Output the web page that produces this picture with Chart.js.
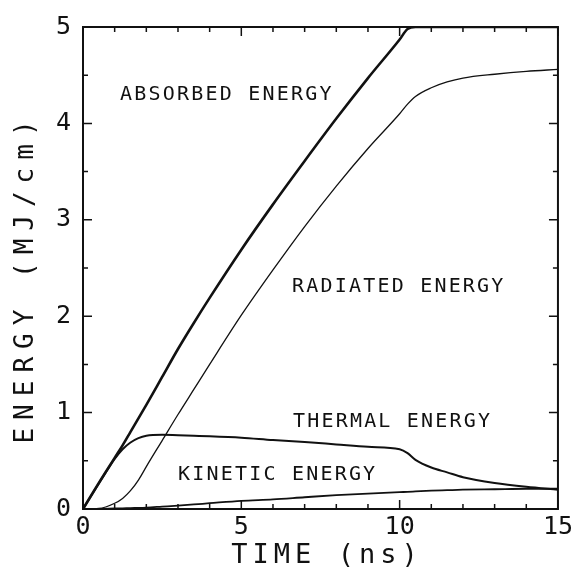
<!DOCTYPE html>
<html>
<head>
<meta charset="utf-8">
<script src="https://cdn.jsdelivr.net/npm/chart.js@4.4.1/dist/chart.umd.min.js"></script>
<style>
  body { margin: 0; background: #fff; }
  #wrap { width: 576px; height: 580px; }
</style>
</head>
<body>
<div id="wrap"><canvas id="energyChart" width="576" height="580"></canvas></div>
<script>
// values (time in ns, energy in MJ/cm)
const timeNs   = [0, 0.5, 1, 1.25, 1.5, 1.75, 2, 2.5, 3, 3.5, 4, 5, 6, 7, 8, 9, 10, 10.25, 10.5, 11, 11.5, 12, 13, 14, 15];
const absorbed = [0, 0.27, 0.53, 0.66, 0.8, 0.94, 1.08, 1.37, 1.66, 1.93, 2.19, 2.69, 3.16, 3.61, 4.05, 4.47, 4.87, 4.98, 5, 5, 5, 5, 5, 5, 5];
const radiated = [0, 0.005, 0.06, 0.11, 0.19, 0.3, 0.44, 0.71, 0.98, 1.24, 1.5, 2.01, 2.48, 2.93, 3.35, 3.74, 4.1, 4.2, 4.28, 4.37, 4.43, 4.47, 4.51, 4.54, 4.56];
const thermal  = [0, 0.265, 0.52, 0.62, 0.69, 0.735, 0.76, 0.77, 0.765, 0.76, 0.755, 0.74, 0.715, 0.695, 0.67, 0.645, 0.62, 0.58, 0.51, 0.43, 0.38, 0.33, 0.27, 0.23, 0.2];
const kinetic  = [0, 0, 0.005, 0.007, 0.01, 0.012, 0.015, 0.025, 0.035, 0.047, 0.06, 0.085, 0.1, 0.122, 0.143, 0.16, 0.175, 0.178, 0.182, 0.19, 0.195, 0.2, 0.205, 0.21, 0.21];

const xTickLabels = ['0', '5', '10', '15'];
const yTickLabels = ['0', '1', '2', '3', '4', '5'];
const curveNames  = ['ABSORBED ENERGY', 'RADIATED ENERGY', 'THERMAL ENERGY', 'KINETIC ENERGY'];

const ink = '#111';
const monoFont = '"DejaVu Sans Mono", monospace';

function toPoints(ys) {
  return timeNs.map((t, i) => ({ x: t, y: ys[i] }));
}

// where the curve names sit, in data units (left edge, baseline)
const namePos = [
  { t: 1.17, e: 4.245 },
  { t: 6.6,  e: 2.255 },
  { t: 6.63, e: 0.847 },
  { t: 3.0,  e: 0.296 }
];

const decorations = {
  id: 'decorations',
  afterDraw(chart) {
    const { ctx, chartArea: a, scales } = chart;
    const xs = scales.x, ys = scales.y;
    ctx.save();
    ctx.strokeStyle = ink;
    ctx.fillStyle = ink;

    // frame
    ctx.lineWidth = 2;
    ctx.strokeRect(a.left, a.top, a.right - a.left, a.bottom - a.top);

    // inward ticks on all four sides
    ctx.lineWidth = 1.5;
    ctx.beginPath();
    for (let t = 0; t <= 15; t++) {
      const px = xs.getPixelForValue(t);
      const len = t % 5 === 0 ? 9 : 5;
      ctx.moveTo(px, a.bottom); ctx.lineTo(px, a.bottom - len);
      ctx.moveTo(px, a.top); ctx.lineTo(px, a.top + len);
    }
    for (let e = 0; e <= 5; e += 0.5) {
      const py = ys.getPixelForValue(e);
      const len = Number.isInteger(e) ? 9 : 5;
      ctx.moveTo(a.left, py); ctx.lineTo(a.left + len, py);
      ctx.moveTo(a.right, py); ctx.lineTo(a.right - len, py);
    }
    ctx.stroke();

    // curve names
    ctx.font = '20px ' + monoFont;
    ctx.letterSpacing = '2.2px';
    ctx.textAlign = 'left';
    ctx.textBaseline = 'alphabetic';
    curveNames.forEach((name, i) => {
      ctx.fillText(name, xs.getPixelForValue(namePos[i].t), ys.getPixelForValue(namePos[i].e));
    });

    // axis titles
    ctx.textAlign = 'center';
    ctx.font = '27px ' + monoFont;
    ctx.letterSpacing = '5px';
    ctx.fillText('TIME (ns)', 327, 563);

    ctx.save();
    ctx.translate(33, 278);
    ctx.rotate(-Math.PI / 2);
    ctx.font = '26px ' + monoFont;
    ctx.letterSpacing = '8px';
    ctx.fillText('ENERGY (MJ/cm)', 0, 0);
    ctx.restore();

    ctx.restore();
  }
};

const ctx = document.getElementById('energyChart');

new Chart(ctx, {
  type: 'line',
  data: {
    datasets: [
      { label: curveNames[0], data: toPoints(absorbed), borderColor: ink, borderWidth: 2.6 },
      { label: curveNames[1], data: toPoints(radiated), borderColor: ink, borderWidth: 1.3 },
      { label: curveNames[2], data: toPoints(thermal),  borderColor: ink, borderWidth: 2 },
      { label: curveNames[3], data: toPoints(kinetic),  borderColor: ink, borderWidth: 1.8 }
    ]
  },
  options: {
    responsive: false,
    animation: false,
    layout: { padding: { top: 19, right: 18, left: 0, bottom: 0 } },
    elements: {
      point: { radius: 0 },
      line: { cubicInterpolationMode: 'monotone', fill: false }
    },
    plugins: {
      legend: { display: false },
      tooltip: { enabled: false }
    },
    scales: {
      x: {
        type: 'linear',
        min: 0,
        max: 15,
        grid: { display: false, drawTicks: false },
        border: { display: false },
        afterFit: (scale) => { scale.height = 71; },
        ticks: {
          stepSize: 1,
          autoSkip: false,
          maxRotation: 0,
          padding: 3,
          color: ink,
          font: { family: monoFont, size: 25 },
          callback: (v) => xTickLabels.includes(String(v)) ? String(v) : ''
        }
      },
      y: {
        min: 0,
        max: 5,
        grid: { display: false, drawTicks: false },
        border: { display: false },
        afterFit: (scale) => { scale.width = 83; },
        ticks: {
          stepSize: 0.5,
          autoSkip: false,
          padding: 12,
          color: ink,
          font: { family: monoFont, size: 25 },
          callback: (v) => yTickLabels.includes(String(v)) ? String(v) : ''
        }
      }
    }
  },
  plugins: [decorations]
});
</script>
</body>
</html>
